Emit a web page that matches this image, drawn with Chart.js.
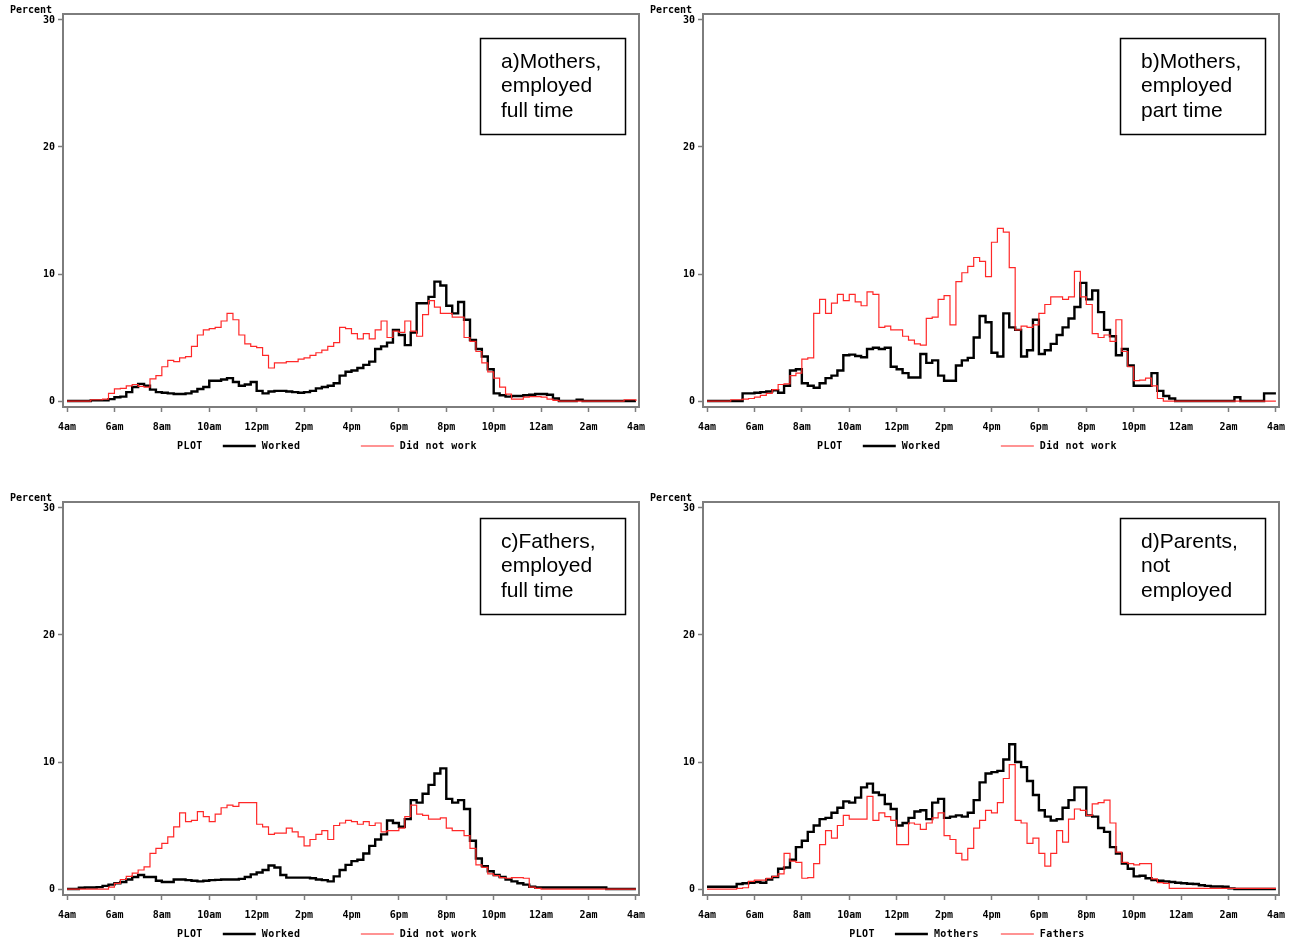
<!DOCTYPE html>
<html>
<head>
<meta charset="utf-8">
<title>Parental time by time of day</title>
<script src="https://cdn.jsdelivr.net/npm/chart.js@4.4.1/dist/chart.umd.min.js"></script>
<style>
  html, body { margin: 0; padding: 0; background: #fff; }
  body { width: 1294px; height: 945px; position: relative; overflow: hidden; }
  .panel { position: absolute; width: 645px; height: 457px; }
  .panel canvas { display: block; }
</style>
</head>
<body>
<div class="panel" style="left:0;top:0"><canvas id="panelA" width="645" height="457"></canvas></div>
<div class="panel" style="left:640px;top:0"><canvas id="panelB" width="645" height="457"></canvas></div>
<div class="panel" style="left:0;top:488px"><canvas id="panelC" width="645" height="457"></canvas></div>
<div class="panel" style="left:640px;top:488px"><canvas id="panelD" width="645" height="457"></canvas></div>
<script>
// Sample times in hours from 4am (4) to 4am next day (28), every quarter hour
const hours = Array.from({ length: 97 }, (_, i) => 4 + i * 0.25);

const xTickHours = [4, 6, 8, 10, 12, 14, 16, 18, 20, 22, 24, 26, 28];
const xTickLabels = ['4am', '6am', '8am', '10am', '12pm', '2pm', '4pm', '6pm', '8pm', '10pm', '12am', '2am', '4am'];
const yTickValues = [0, 10, 20, 30];

// a) Mothers, employed full time
const motherFtWorked = [
  0, 0, 0, 0,
  0.05, 0.05, 0.05, 0.15,
  0.3, 0.35, 0.7, 1.1,
  1.35, 1.2, 0.9, 0.7,
  0.65, 0.6, 0.55, 0.55,
  0.6, 0.75, 0.95, 1.1,
  1.6, 1.6, 1.7, 1.8,
  1.5, 1.2, 1.3, 1.5,
  0.8, 0.6, 0.75, 0.8,
  0.8, 0.75, 0.7, 0.65,
  0.7, 0.8, 1.0, 1.1,
  1.2, 1.4, 2.0, 2.3,
  2.4, 2.6, 2.85, 3.1,
  4.1, 4.3, 4.6, 5.6,
  5.2, 4.4, 5.4, 7.7,
  7.7, 8.2, 9.4, 9.1,
  7.5, 6.9, 7.8, 6.4,
  4.8, 4.1, 3.5, 2.5,
  0.6, 0.45, 0.35, 0.4,
  0.4, 0.45, 0.5, 0.55,
  0.55, 0.5, 0.2, 0,
  0, 0, 0.1, 0,
  0, 0, 0, 0,
  0, 0, 0, 0,
  0
];
const motherFtOff = [
  0, 0, 0, 0,
  0.1, 0.1, 0.15, 0.6,
  0.95, 1.0, 1.2, 1.3,
  1.15, 1.1, 1.75, 2.0,
  2.7, 3.2, 3.1, 3.4,
  3.5, 4.3, 5.2, 5.6,
  5.7, 5.8, 6.3, 6.9,
  6.4, 5.2, 4.5, 4.3,
  4.2, 3.6, 2.6, 3.0,
  3.0, 3.1, 3.1, 3.3,
  3.4, 3.6, 3.8, 4.0,
  4.3, 4.6, 5.8, 5.7,
  5.3, 4.9, 5.3, 4.9,
  5.6, 6.3, 5.0, 5.5,
  5.4, 6.3, 5.5, 5.1,
  6.8, 7.9, 7.4, 6.9,
  6.9, 6.6, 6.6, 5.0,
  4.7, 3.9, 3.0, 2.3,
  1.8, 1.1, 0.55, 0.15,
  0.15, 0.3, 0.35, 0.35,
  0.3, 0.15, 0.05, 0,
  0, 0, 0, 0,
  0, 0, 0, 0,
  0, 0, 0.1, 0.1,
  0
];

// b) Mothers, employed part time
const motherPtWorked = [
  0, 0, 0, 0,
  0, 0, 0.6, 0.6,
  0.65, 0.7, 0.75, 0.85,
  0.65, 1.2, 2.4, 2.5,
  1.4, 1.2, 1.05, 1.4,
  1.8, 2.0, 2.4, 3.6,
  3.65, 3.55, 3.45, 4.1,
  4.2, 4.1, 4.2, 2.7,
  2.5, 2.2, 1.85, 1.85,
  3.7, 3.0, 3.2, 2.0,
  1.6, 1.6, 2.8, 3.2,
  3.4, 5.0, 6.7, 6.2,
  3.8, 3.5, 6.9, 5.8,
  5.6, 3.5, 4.0, 6.4,
  3.7, 4.0, 4.5, 5.2,
  5.8, 6.5, 7.4, 9.3,
  8.0, 8.7, 7.0, 5.6,
  5.1, 3.6, 4.1, 2.8,
  1.2, 1.2, 1.2, 2.2,
  0.8, 0.4, 0.2, 0,
  0, 0, 0, 0,
  0, 0, 0, 0,
  0, 0.3, 0, 0,
  0, 0, 0.6, 0.6,
  0.6
];
const motherPtOff = [
  0, 0, 0, 0,
  0.1, 0.1, 0.15, 0.2,
  0.3, 0.45, 0.6, 0.9,
  1.3, 1.35, 2.0, 2.2,
  3.3, 3.4, 6.9, 8.0,
  6.9, 7.7, 8.4, 7.9,
  8.4, 7.8, 7.5, 8.6,
  8.4, 5.8, 5.9, 5.6,
  5.6, 5.1, 4.8, 4.5,
  4.4, 6.5, 6.6, 8.0,
  8.3, 6.0, 9.4, 10.1,
  10.6, 11.3, 11.0, 9.8,
  12.5, 13.6, 13.3, 10.5,
  5.6, 5.9, 5.8, 6.0,
  6.9, 7.6, 8.2, 8.2,
  8.0, 8.2, 10.2, 8.2,
  7.6, 5.3, 5.0, 5.2,
  4.7, 6.4, 3.9, 2.7,
  1.6, 1.65, 1.8, 1.2,
  0.2, 0, 0, 0,
  0, 0, 0, 0,
  0, 0, 0, 0,
  0, 0, 0, 0,
  0, 0, 0, 0,
  0
];

// c) Fathers, employed full time
const fatherFtWorked = [
  0, 0, 0.1, 0.12,
  0.12, 0.15, 0.25, 0.35,
  0.45, 0.55, 0.75, 0.95,
  1.1, 0.95, 0.95, 0.65,
  0.55, 0.55, 0.75, 0.75,
  0.7, 0.65, 0.6, 0.65,
  0.7, 0.72, 0.75, 0.75,
  0.75, 0.8, 0.95, 1.15,
  1.3, 1.5, 1.85, 1.7,
  1.1, 0.9, 0.9, 0.9,
  0.9, 0.85, 0.75, 0.7,
  0.6, 1.0, 1.5, 1.9,
  2.2, 2.3, 2.8, 3.4,
  3.9, 4.3, 5.4, 5.2,
  4.9, 5.5, 7.0, 6.8,
  7.5, 8.2, 9.1, 9.5,
  7.1, 6.8, 7.0, 6.3,
  3.8, 2.4, 1.8, 1.4,
  1.1, 0.95, 0.75, 0.6,
  0.45, 0.35, 0.18, 0.12,
  0.12, 0.12, 0.12, 0.12,
  0.12, 0.12, 0.12, 0.12,
  0.12, 0.12, 0.12, 0,
  0, 0, 0, 0,
  0
];
const fatherFtOff = [
  0, 0, 0, 0,
  0, 0, 0, 0.15,
  0.45, 0.75, 1.0, 1.25,
  1.5, 1.75, 2.8, 3.2,
  3.6, 4.1, 4.9, 6.0,
  5.3, 5.4, 6.1, 5.7,
  5.3, 5.9, 6.4, 6.6,
  6.5, 6.8, 6.8, 6.8,
  5.1, 4.9, 4.3, 4.4,
  4.4, 4.8, 4.5, 4.1,
  3.4, 3.9, 4.3, 4.6,
  3.9, 5.0, 5.2, 5.4,
  5.3, 5.1, 5.3, 5.0,
  5.2, 4.5, 4.6, 4.6,
  4.8, 5.7, 6.6, 5.9,
  5.8, 5.5, 5.5, 5.6,
  4.8, 4.6, 4.6, 4.2,
  3.2, 1.9, 1.7, 1.2,
  1.05, 0.9, 0.85, 0.9,
  0.9, 0.85, 0.15, 0.05,
  0, 0, 0, 0,
  0, 0, 0, 0,
  0, 0, 0, 0,
  0, 0, 0, 0,
  0
];

// d) Parents, not employed
const mothersNotEmployed = [
  0.18, 0.18, 0.18, 0.18,
  0.18, 0.4, 0.45, 0.5,
  0.55, 0.5, 0.75, 0.95,
  1.6, 1.7, 2.3, 3.3,
  3.8, 4.5, 5.0, 5.5,
  5.6, 6.0, 6.4, 6.9,
  6.8, 7.2, 8.0, 8.3,
  7.6, 7.4, 6.7, 6.3,
  5.0, 5.2, 5.6, 6.1,
  6.2, 5.5, 6.8, 7.1,
  5.6, 5.7, 5.8, 5.7,
  6.0, 7.0, 8.4, 9.1,
  9.2, 9.3, 10.2, 11.4,
  10.0, 9.6, 8.5, 7.4,
  6.2, 5.7, 5.4, 5.5,
  6.4, 7.0, 8.0, 8.0,
  5.8, 5.7, 4.8, 4.5,
  3.3, 2.8, 2.0, 1.6,
  1.0, 1.05, 0.85, 0.7,
  0.65, 0.6, 0.55, 0.5,
  0.45, 0.42, 0.4, 0.3,
  0.25, 0.2, 0.2, 0.18,
  0.05, 0, 0, 0,
  0, 0, 0, 0,
  0
];
const fathersNotEmployed = [
  0, 0, 0, 0,
  0, 0.05, 0.1, 0.6,
  0.7, 0.7, 0.85, 1.0,
  1.2, 2.8, 2.2, 2.1,
  0.85, 0.9, 2.0, 3.5,
  4.6, 4.0, 5.0, 5.8,
  5.5, 5.5, 5.5, 7.3,
  5.4, 6.0, 5.7, 5.4,
  3.5, 3.5, 5.2, 5.1,
  4.7, 5.2, 5.6, 6.0,
  4.2, 3.9, 2.8, 2.3,
  3.2, 4.8, 5.4, 6.2,
  6.0, 6.8, 8.7, 9.8,
  5.4, 5.2, 3.6, 4.0,
  2.8, 1.8, 2.8, 4.6,
  3.7, 5.5, 6.3, 6.2,
  5.8, 6.7, 6.8, 7.0,
  5.2, 2.9, 2.1, 2.0,
  1.9, 2.0, 2.0, 0.8,
  0.5, 0.45, 0.05, 0.05,
  0.05, 0.05, 0.05, 0.05,
  0.05, 0.05, 0.05, 0.05,
  0.05, 0.05, 0.05, 0.05,
  0.05, 0.05, 0.05, 0.05,
  0.05
];

const workedLabels = ['Worked', 'Did not work'];
const parentLabels = ['Mothers', 'Fathers'];

Chart.defaults.font.family = '"DejaVu Sans Mono", "Liberation Mono", monospace';
Chart.defaults.font.size = 10;
Chart.defaults.font.weight = 'bold';
Chart.defaults.color = '#000';

const MONO = 'bold 10px "DejaVu Sans Mono", "Liberation Mono", monospace';
const frameColor = '#7d7d7d';
const redColor = 'rgb(255, 40, 40)';

// Frame, "Percent" heading, bottom legend and the caption box
const panelDecor = {
  id: 'panelDecor',
  afterDraw(chart, args, opts) {
    const { ctx, chartArea: a } = chart;
    ctx.save();
    // plot frame
    ctx.strokeStyle = frameColor;
    ctx.lineWidth = 2;
    ctx.strokeRect(a.left, a.top, a.right - a.left, a.bottom - a.top);

    // axis heading
    ctx.font = MONO;
    ctx.fillStyle = '#000';
    ctx.textBaseline = 'middle';
    ctx.textAlign = 'left';
    ctx.fillText('Percent', 10, 10.5);

    // legend row
    try { ctx.letterSpacing = '0.4px'; } catch (e) {}
    const ds = chart.data.datasets;
    const lineLen = 33;
    const plotW = ctx.measureText('PLOT').width;
    const labelW = ds.map(d => ctx.measureText(d.label).width);
    const maxW = Math.max(...labelW);
    const slot = lineLen + 6 + maxW + 22;
    const total = plotW + 20 + slot * (ds.length - 1) + lineLen + 6 + labelW[labelW.length - 1];
    let x = 327 - total / 2;
    const ly = 446;
    ctx.fillText('PLOT', x, ly);
    x += plotW + 20;
    ds.forEach((d, i) => {
      ctx.strokeStyle = d.borderColor;
      ctx.lineWidth = d.borderWidth;
      ctx.beginPath();
      ctx.moveTo(x, ly);
      ctx.lineTo(x + lineLen, ly);
      ctx.stroke();
      ctx.fillText(d.label, x + lineLen + 6, ly);
      x += slot;
    });
    try { ctx.letterSpacing = '0px'; } catch (e) {}

    // caption box
    const bx = 480, by = opts.boxTop, bw = 145, bh = 96;
    ctx.strokeStyle = '#000';
    ctx.lineWidth = 1.5;
    ctx.strokeRect(bx + 0.5, by + 0.5, bw, bh);
    ctx.font = '21px "Liberation Sans", Arial, sans-serif';
    ctx.fillStyle = '#000';
    opts.caption.forEach((t, i) => ctx.fillText(t, bx + 21, by + 24 + i * 24.5));
    ctx.restore();
  }
};

function makePanel(id, worked, other, labels, caption, boxTop) {
  const toPoints = vals => hours.map((h, i) => ({ x: h, y: vals[i] }));
  const tickGrid = { display: true, drawOnChartArea: false, drawTicks: true, tickLength: 5, tickWidth: 1.5, color: frameColor };
  return new Chart(document.getElementById(id), {
    type: 'line',
    data: {
      datasets: [
        { label: labels[0], data: toPoints(worked), borderColor: '#000', borderWidth: 2.4, stepped: true, pointRadius: 0, fill: false, order: 1 },
        { label: labels[1], data: toPoints(other), borderColor: redColor, borderWidth: 1.2, stepped: true, pointRadius: 0, fill: false, order: 0 }
      ]
    },
    options: {
      responsive: false,
      animation: false,
      events: [],
      layout: { autoPadding: false, padding: { left: 0, top: 14, right: 6, bottom: 20 } },
      plugins: {
        legend: { display: false },
        tooltip: { enabled: false },
        panelDecor: { caption, boxTop }
      },
      scales: {
        x: {
          type: 'linear',
          min: 3.83,
          max: 28.13,
          afterBuildTicks: s => { s.ticks = xTickHours.map(v => ({ value: v })); },
          afterFit: s => { s.height = 30; s.paddingLeft = 0; s.paddingRight = 0; },
          ticks: { autoSkip: false, maxRotation: 0, padding: 9, callback: (v, i) => xTickLabels[i] },
          grid: tickGrid,
          border: { display: false }
        },
        y: {
          type: 'linear',
          min: -0.47,
          max: 30.47,
          afterBuildTicks: s => { s.ticks = yTickValues.map(v => ({ value: v })); },
          afterFit: s => { s.width = 63; s.paddingTop = 0; s.paddingBottom = 0; },
          ticks: { padding: 3, callback: v => String(v) },
          grid: tickGrid,
          border: { display: false }
        }
      }
    },
    plugins: [panelDecor]
  });
}

makePanel('panelA', motherFtWorked, motherFtOff, workedLabels, ['a)Mothers,', 'employed', 'full time'], 38);
makePanel('panelB', motherPtWorked, motherPtOff, workedLabels, ['b)Mothers,', 'employed', 'part time'], 38);
makePanel('panelC', fatherFtWorked, fatherFtOff, workedLabels, ['c)Fathers,', 'employed', 'full time'], 30);
makePanel('panelD', mothersNotEmployed, fathersNotEmployed, parentLabels, ['d)Parents,', 'not', 'employed'], 30);
</script>
</body>
</html>
